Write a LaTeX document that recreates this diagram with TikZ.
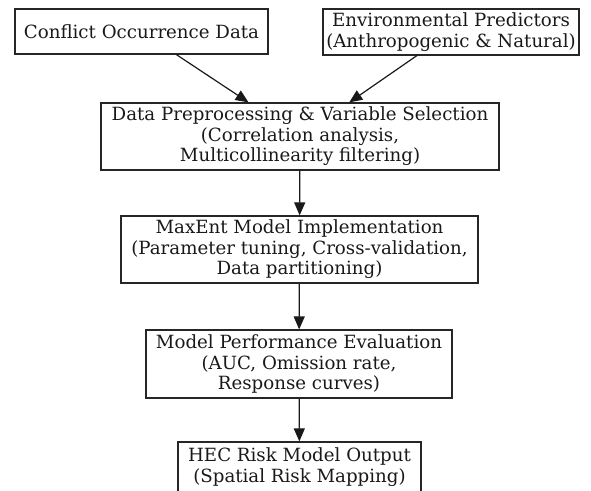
\documentclass[tikz,border=0pt]{standalone}
\usepackage{fontspec}
\setmainfont{DejaVu Serif}
\usetikzlibrary{arrows.meta}

\begin{document}
\begin{tikzpicture}[x=0.5pt, y=-0.5pt,
    stage/.style={draw=black!85, line width=0.6pt, align=center, inner sep=0pt,
        font=\fontsize{9.1}{10.3}\selectfont, text=black!90},
    flow/.style={-{Triangle[length=6.5pt, width=5.5pt]}, line width=0.6pt, black!90}]
    \useasboundingbox (0,0) rectangle (591,491);
    \clip (0,0) rectangle (591,491);

    % Inputs
    \node[stage, minimum width=126.5pt, minimum height=22.5pt] (conflict) at (141.5, 31.5) {Conflict Occurrence Data};
    \node[stage, minimum width=128pt, minimum height=23pt] (predictors) at (451, 32) {Environmental Predictors\\(Anthropogenic \& Natural)};

    % Processing chain
    \node[stage, minimum width=199pt, minimum height=33.5pt] (preprocess) at (300, 136.5) {Data Preprocessing \& Variable Selection\\(Correlation analysis,\\Multicollinearity filtering)};
    \node[stage, minimum width=178.5pt, minimum height=33.5pt] (maxent) at (299.5, 249.5) {MaxEnt Model Implementation\\(Parameter tuning, Cross-validation,\\Data partitioning)};
    \node[stage, minimum width=153pt, minimum height=34pt] (evaluation) at (299, 364) {Model Performance Evaluation\\(AUC, Omission rate,\\Response curves)};
    \node[stage, minimum width=121.5pt, minimum height=25pt] (output) at (299.5, 467) {HEC Risk Model Output\\(Spatial Risk Mapping)};

    % Connectors
    \draw[flow] (conflict) -- (preprocess);
    \draw[flow] (predictors) -- (preprocess);
    \draw[flow] (preprocess) -- (maxent);
    \draw[flow] (maxent) -- (evaluation);
    \draw[flow] (evaluation) -- (output);
\end{tikzpicture}
\end{document}
